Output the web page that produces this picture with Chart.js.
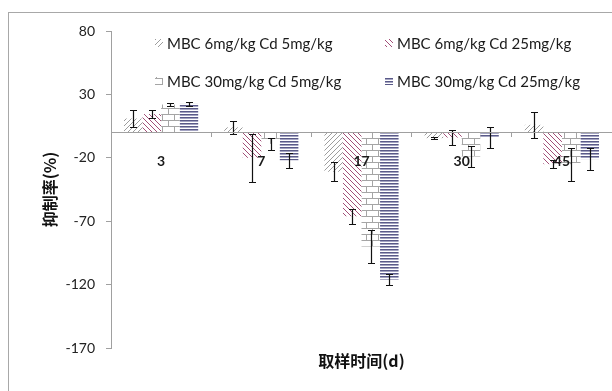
<!DOCTYPE html>
<html>
<head>
<meta charset="utf-8">
<script src="https://cdn.jsdelivr.net/npm/chart.js@4/dist/chart.umd.min.js"></script>
<style>
  html, body { margin: 0; padding: 0; background: #fff; }
  #wrap { width: 612px; height: 391px; position: relative; }
</style>
</head>
<body>
<div id="wrap"><canvas id="c" width="612" height="391"></canvas></div>
<script>
// Sampling days (categories)
const categories = ['3', '7', '17', '30', '45'];

// Treatment names
const seriesNames = [
  'MBC 6mg/kg Cd 5mg/kg',
  'MBC 6mg/kg Cd 25mg/kg',
  'MBC 30mg/kg Cd 5mg/kg',
  'MBC 30mg/kg Cd 25mg/kg'
];

// Inhibition rate (%) per treatment
const mbc6cd5   = [11, 4, -31, -4.5, 6];
const mbc6cd25  = [14.5, -20, -66, -4, -25];
const mbc30cd5  = [22, -9, -90, -19, -25];
const mbc30cd25 = [22.5, -22, -116, -4, -21];

// Error bar half-lengths
const err6cd5   = [7, 5, 7.5, 1, 10];
const err6cd25  = [3, 19, 6, 6, 3];
const err30cd5  = [1.5, 5, 13, 8, 13];
const err30cd25 = [1.5, 6, 4.5, 8, 8.5];

// Value axis ticks
const yTicks = [-170, -120, -70, -20, 30, 80];

const canvas = document.getElementById('c');
const ctx0 = canvas.getContext('2d');

function makeTile(w, h, draw) {
  const t = document.createElement('canvas');
  t.width = w; t.height = h;
  const g = t.getContext('2d');
  g.fillStyle = '#ffffff';
  g.fillRect(0, 0, w, h);
  draw(g);
  return ctx0.createPattern(t, 'repeat');
}

// light grey "/" hatch
const hatchUp = makeTile(5, 5, g => {
  g.strokeStyle = '#9d9d9d'; g.lineWidth = 1;
  g.beginPath();
  g.moveTo(-1, 6); g.lineTo(6, -1);
  g.moveTo(-1, 1); g.lineTo(1, -1);
  g.moveTo(4, 6); g.lineTo(6, 4);
  g.stroke();
});
// maroon "\" hatch
const hatchDown = makeTile(5, 5, g => {
  g.strokeStyle = '#a24f78'; g.lineWidth = 1;
  g.beginPath();
  g.moveTo(-1, -1); g.lineTo(6, 6);
  g.moveTo(4, -1); g.lineTo(6, 1);
  g.moveTo(-1, 4); g.lineTo(1, 6);
  g.stroke();
});
// grey brick
const brick = makeTile(12, 12, g => {
  g.strokeStyle = '#a5a5a5'; g.lineWidth = 1;
  g.beginPath();
  g.moveTo(0, 0.5); g.lineTo(12, 0.5);
  g.moveTo(0, 6.5); g.lineTo(12, 6.5);
  g.moveTo(0.5, 0); g.lineTo(0.5, 6);
  g.moveTo(6.5, 6); g.lineTo(6.5, 12);
  g.stroke();
});
// slate-blue horizontal stripes
const stripes = makeTile(4, 3, g => {
  g.fillStyle = '#5a5a88'; g.fillRect(0, 0, 4, 1);
  g.fillStyle = '#a4a4c2'; g.fillRect(0, 1, 4, 1);
});

const fills = [hatchUp, hatchDown, brick, stripes];
const values = [mbc6cd5, mbc6cd25, mbc30cd5, mbc30cd25];
const errors = [err6cd5, err6cd25, err30cd5, err30cd25];

const datasets = seriesNames.map((name, i) => ({
  label: name,
  data: values[i],
  errors: errors[i],
  backgroundColor: fills[i],
  borderWidth: 0,
  categoryPercentage: 0.74,
  barPercentage: 1.0
}));

// Frame around the whole chart
const framePlugin = {
  id: 'frame',
  beforeDraw(chart) {
    const c = chart.ctx;
    c.save();
    c.fillStyle = '#ffffff';
    c.fillRect(0, 0, chart.width, chart.height);
    c.strokeStyle = '#a8a8a8';
    c.lineWidth = 1;
    c.strokeRect(8.5, 12.5, 800, 600);
    c.restore();
  }
};

// Error bars with caps
const errorBarPlugin = {
  id: 'errorBars',
  afterDatasetsDraw(chart) {
    const c = chart.ctx;
    const y = chart.scales.y;
    c.save();
    c.strokeStyle = '#111';
    c.lineWidth = 1.2;
    chart.data.datasets.forEach((ds, i) => {
      const meta = chart.getDatasetMeta(i);
      meta.data.forEach((bar, j) => {
        const v = ds.data[j], e = ds.errors[j];
        const x = Math.round(bar.x) + 0.5;
        const y1 = Math.round(y.getPixelForValue(v + e)) + 0.5;
        const y2 = Math.round(y.getPixelForValue(v - e)) + 0.5;
        const cap = 3.5;
        c.beginPath();
        c.moveTo(x, y1); c.lineTo(x, y2);
        c.moveTo(x - cap, y1); c.lineTo(x + cap, y1);
        c.moveTo(x - cap, y2); c.lineTo(x + cap, y2);
        c.stroke();
      });
    });
    c.restore();
  }
};

// Two-column legend inside the plot area
const legendPlugin = {
  id: 'gridLegend',
  afterDraw(chart) {
    const c = chart.ctx;
    const spots = [[155, 43], [385, 43], [155, 81], [385, 81]];
    c.save();
    c.font = '15px Lato';
    c.textBaseline = 'middle';
    chart.data.datasets.forEach((ds, i) => {
      const [lx, ly] = spots[i];
      c.fillStyle = ds.backgroundColor;
      c.fillRect(lx, ly - 4, 8, 8);
      c.fillStyle = '#1a1a1a';
      c.fillText(ds.label, lx + 12, ly + 1);
    });
    c.restore();
  }
};

new Chart(canvas, {
  type: 'bar',
  data: { labels: categories, datasets },
  options: {
    responsive: false,
    animation: false,
    devicePixelRatio: 1,
    layout: { padding: { top: 31, right: 0, bottom: 0, left: 0 } },
    plugins: {
      legend: { display: false },
      tooltip: { enabled: false },
      title: { display: false }
    },
    scales: {
      x: {
        type: 'category',
        position: { y: 0 },
        offset: true,
        grid: {
          display: true, drawOnChartArea: false, drawTicks: true,
          tickLength: 4, offset: true, color: '#a0a0a0'
        },
        border: { display: true, color: '#a0a0a0', width: 1, z: 1 },
        ticks: {
          font: { family: 'Lato', size: 14, weight: 'bold' },
          color: '#1a1a1a', padding: 17, maxRotation: 0, z: 2
        }
      },
      xTitle: {
        type: 'category',
        position: 'bottom',
        offset: true,
        grid: { display: false, drawTicks: false },
        border: { display: false },
        ticks: { display: false },
        title: {
          display: true, text: '取样时间(d)', color: '#111',
          font: { family: 'Noto Sans CJK SC', size: 16, weight: 'bold' },
          padding: { top: 0, bottom: 20 }
        },
        afterFit(scale) { scale.height = 43; }
      },
      y: {
        min: -170, max: 80,
        afterBuildTicks(scale) { scale.ticks = yTicks.map(v => ({ value: v })); },
        grid: {
          display: true, drawOnChartArea: false, drawTicks: true,
          tickLength: 5, color: '#a0a0a0'
        },
        border: { display: true, color: '#a0a0a0', width: 1 },
        ticks: {
          font: { family: 'Lato', size: 14 },
          color: '#222', padding: 11
        },
        title: {
          display: true, text: '抑制率(%)', color: '#111',
          font: { family: 'Noto Sans CJK SC', size: 16, weight: 'bold' },
          padding: { top: 40, bottom: 0 }
        },
        afterFit(scale) { scale.width = 111; }
      }
    }
  },
  plugins: [framePlugin, errorBarPlugin, legendPlugin]
});
</script>
</body>
</html>
